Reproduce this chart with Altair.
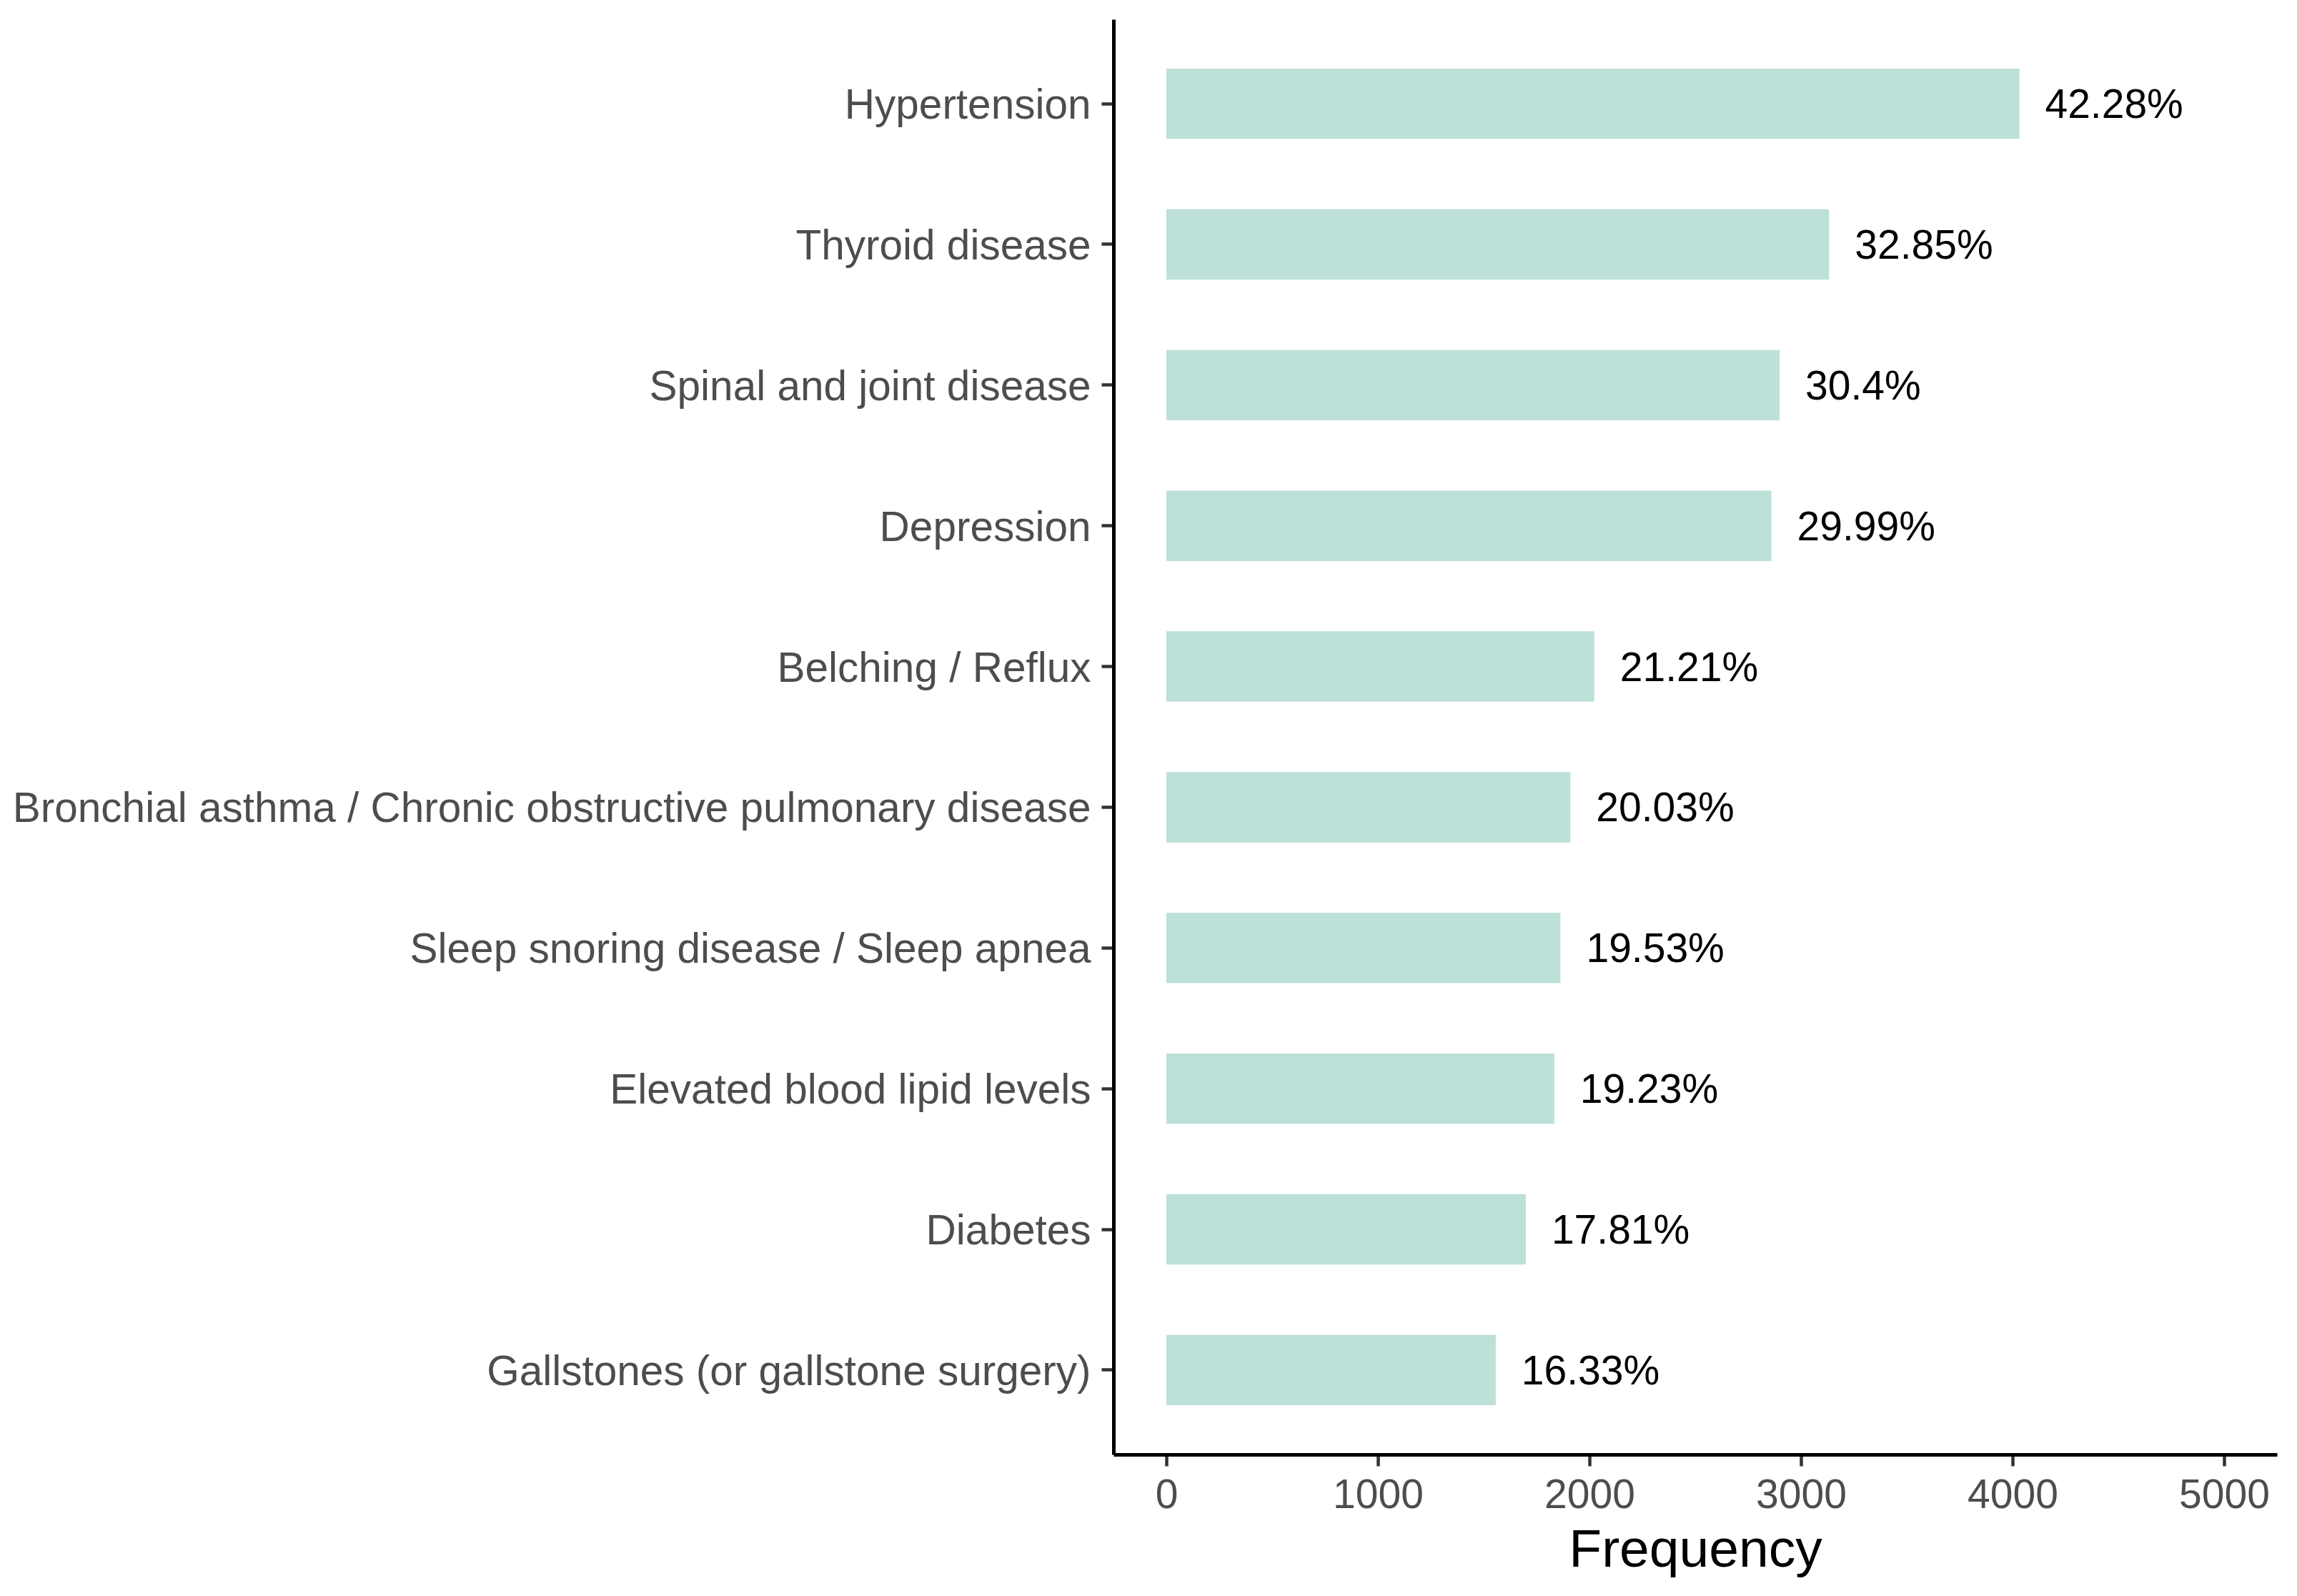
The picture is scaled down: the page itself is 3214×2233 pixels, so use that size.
import altair as alt
import pandas as pd

categories = [
    "Hypertension",
    "Thyroid disease",
    "Spinal and joint disease",
    "Depression",
    "Belching / Reflux",
    "Bronchial asthma / Chronic obstructive pulmonary disease",
    "Sleep snoring disease / Sleep apnea",
    "Elevated blood lipid levels",
    "Diabetes",
    "Gallstones (or gallstone surgery)",
]
counts = [4032, 3133, 2899, 2860, 2023, 1910, 1863, 1834, 1699, 1557]
pct_labels = ["42.28%", "32.85%", "30.4%", "29.99%", "21.21%",
              "20.03%", "19.53%", "19.23%", "17.81%", "16.33%"]
x_ticks = [0, 1000, 2000, 3000, 4000, 5000]

df = pd.DataFrame({"disease": categories, "count": counts, "label": pct_labels})

FONT = "Liberation Sans"

y_enc = alt.Y(
    "disease:N",
    sort=categories,
    scale=alt.Scale(paddingInner=0.5, paddingOuter=0.35),
    axis=alt.Axis(
        title=None,
        labelFontSize=58.5,
        labelColor="#4D4D4D",
        labelFont=FONT,
        labelPadding=15,
        labelOffset=3,
        labelLimit=3000,
        tickSize=17,
        tickWidth=4.5,
        tickColor="#333333",
        domainColor="#000000",
        domainWidth=5,
        grid=False,
    ),
)

x_enc = alt.X(
    "count:Q",
    scale=alt.Scale(domain=[-250, 5250], nice=False, zero=False),
    axis=alt.Axis(
        title="Frequency",
        values=x_ticks,
        format="d",
        labelFontSize=57,
        labelColor="#4D4D4D",
        labelFont=FONT,
        labelPadding=13,
        labelFlush=False,
        tickSize=16,
        tickWidth=4.5,
        tickColor="#333333",
        domainColor="#000000",
        domainWidth=5,
        grid=False,
        titleFontSize=75,
        titleFont=FONT,
        titleFontWeight="normal",
        titleColor="#000000",
        titlePadding=12,
    ),
)

bars = alt.Chart(df).mark_bar(color="#BDE0D9").encode(
    y=y_enc,
    x=x_enc,
    x2=alt.datum(0),
)

labels = alt.Chart(df).mark_text(
    align="left", baseline="middle", dx=36, dy=3, fontSize=57, font=FONT, color="#000000"
).encode(
    y=alt.Y("disease:N", sort=categories),
    x=alt.X("count:Q"),
    text="label:N",
)

chart = (
    alt.layer(bars, labels)
    .properties(
        width=1628,
        height=2008,
        autosize=alt.AutoSizeParams(type="none"),
        padding={"left": 1550, "top": 19, "right": 20, "bottom": 190},
        background="white",
    )
    .configure_view(stroke=None)
)

chart.save("out.html", embed_options={"renderer": "svg", "actions": False})
